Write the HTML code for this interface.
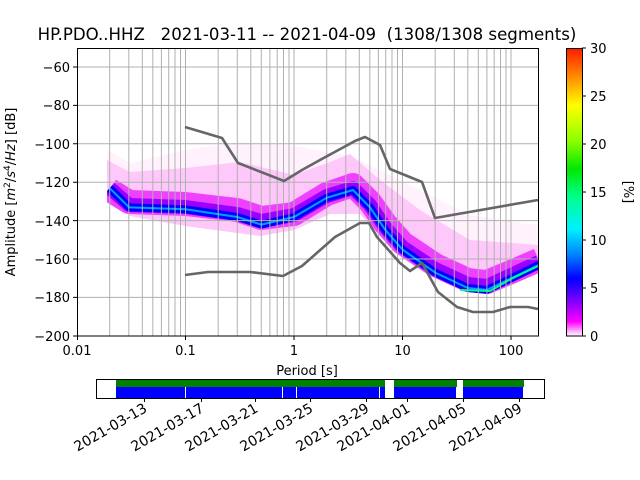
<!DOCTYPE html>
<html><head><meta charset="utf-8"><style>body{margin:0;background:#fff}svg{display:block}text{font-family:"DejaVu Sans","Liberation Sans",sans-serif;fill:#000}</style></head><body>
<svg width="640" height="480" viewBox="0 0 640 480" xmlns="http://www.w3.org/2000/svg">
<defs>
<linearGradient id="cb" x1="0" y1="0" x2="0" y2="1">
<stop offset="0" stop-color="#ff1a00"/><stop offset="0.1" stop-color="#ff8c00"/><stop offset="0.2" stop-color="#ffff00"/><stop offset="0.32" stop-color="#90ff00"/><stop offset="0.42" stop-color="#00e800"/><stop offset="0.52" stop-color="#00ff90"/><stop offset="0.63" stop-color="#00f0ff"/><stop offset="0.72" stop-color="#0080ff"/><stop offset="0.8" stop-color="#0000ff"/><stop offset="0.88" stop-color="#8000ff"/><stop offset="0.95" stop-color="#ff00ff"/><stop offset="1" stop-color="#ffffff"/>
</linearGradient>
<clipPath id="ax"><rect x="107" y="48" width="431" height="288"/></clipPath>
</defs>
<g clip-path="url(#ax)">
<polygon fill="#fff2fd" points="107,150 130,163 185,150 240,142 294,146 350,156 380,170 420,190 470,215 538,225 538,258 500,286 470,282 435,271 402,253 380,233 360,212 330,208 294,226 260,232 185,222 130,213 107,184"/>
<polygon fill="#ffc8fa" points="107,160 130,172 185,168 240,162 294,175 330,162 350,154 380,180 420,210 470,240 538,245 538,262 500,290 470,291 435,278 402,258 380,236 360,214 330,214 294,230 260,236 185,226 130,216 107,190"/>
<polyline fill="none" stroke="#f040ff" stroke-width="24" stroke-linejoin="round" points="109.7,190 129.2,202 185.5,204 237.3,210 261.3,218 294,214 326.7,194 353,185 370,202 385.7,224 402.5,243 435.2,265 467.8,280 486.9,282 511,272 538.7,260"/>
<polyline fill="none" stroke="#9a00ff" stroke-width="14" stroke-linejoin="round" points="109.7,188 129.2,205 185.5,207 237.3,214 261.3,221 294,215 326.7,196 353,188 370,205 385.7,228 402.5,247 435.2,269 467.8,284 486.9,286 511,275 538.7,262"/>
<polyline fill="none" stroke="#0000ff" stroke-width="8" stroke-linejoin="round" points="109.7,188.2 129.2,207.4 185.5,209.3 237.3,217 261.3,224.6 294,217 326.7,197.8 353,190 370,207.4 385.7,230.4 402.5,249.6 435.2,272.6 467.8,288 486.9,289.9 511,278.4 538.7,265"/>
<polyline fill="none" stroke="#00a0ff" stroke-width="2" stroke-linejoin="round" points="109.7,188.2 129.2,207.4 185.5,209.3 237.3,217 261.3,224.6 294,217 326.7,197.8 353,190 370,207.4 385.7,230.4 402.5,249.6 435.2,272.6 467.8,288 486.9,289.9 511,278.4 538.7,265"/>
<polyline fill="none" stroke="#00ff80" stroke-width="2" points="460,290 490,291 511,279 538,266"/>
</g>
<g stroke="#b0b0b0" stroke-width="1">
<path d="M77,67H538M77,105.4H538M77,143.8H538M77,182.2H538M77,220.6H538M77,259H538M77,297.4H538"/>
<path d="M109.7,48V336M128.8,48V336M142.3,48V336M152.8,48V336M161.4,48V336M168.7,48V336M175,48V336M180.5,48V336M185.5,48V336M218.2,48V336M237.3,48V336M250.8,48V336M261.3,48V336M269.9,48V336M277.2,48V336M283.5,48V336M289,48V336M294,48V336M326.7,48V336M345.8,48V336M359.3,48V336M369.8,48V336M378.4,48V336M385.7,48V336M392,48V336M397.5,48V336M402.5,48V336M435.2,48V336M454.3,48V336M467.8,48V336M478.3,48V336M486.9,48V336M494.2,48V336M500.5,48V336M506,48V336M511,48V336"/>
</g>
<g fill="none" stroke="#666" stroke-width="2.6" stroke-linejoin="round">
<polyline points="185,127 222,138 238,163 284,181 302,170 320,160 355,141 365,137 380,145 390,169 422,182 435,218 538,200"/>
<polyline points="185,275 208,272 250,272 283,276 302,266 335,237 360,223 369,223 377,237 400,263 410,271 422,263 438,292 457,307 473,312 493,312 510,307 528,307 538,309"/>
</g>
<rect x="77.5" y="48.5" width="461" height="287.5" fill="none" stroke="#000" stroke-width="1"/>
<g stroke="#000"><path d="M77,67h-4M77,105.4h-4M77,143.8h-4M77,182.2h-4M77,220.6h-4M77,259h-4M77,297.4h-4M77,336h-4M77.5,336v4M185.5,336v4M294,336v4M402.5,336v4M511,336v4"/></g>
<g font-size="13" text-anchor="end">
<text x="70" y="72">−60</text><text x="70" y="110">−80</text><text x="70" y="149">−100</text><text x="70" y="187">−120</text><text x="70" y="226">−140</text><text x="70" y="264">−160</text><text x="70" y="302">−180</text><text x="70" y="341">−200</text>
</g>
<g font-size="13" text-anchor="middle">
<text x="77" y="355">0.01</text><text x="185.5" y="355">0.1</text><text x="294" y="355">1</text><text x="402.5" y="355">10</text><text x="511" y="355">100</text>
<text x="307" y="375">Period [s]</text>
</g>
<text font-size="13" text-anchor="middle" transform="translate(15,192) rotate(-90)">Amplitude [<tspan font-style="italic">m</tspan><tspan font-size="9" dy="-5">2</tspan><tspan dy="5">/</tspan><tspan font-style="italic">s</tspan><tspan font-size="9" dy="-5">4</tspan><tspan dy="5">/</tspan><tspan font-style="italic">Hz</tspan>] [dB]</text>
<text x="307" y="40" font-size="16.6" text-anchor="middle" xml:space="preserve">HP.PDO..HHZ   2021-03-11 -- 2021-04-09  (1308/1308 segments)</text>
<rect x="566" y="48" width="16" height="288" fill="url(#cb)"/>
<rect x="566.5" y="48.5" width="16" height="287.5" fill="none" stroke="#000"/>
<g stroke="#000"><path d="M582,48h4M582,96h4M582,144h4M582,192h4M582,240h4M582,288h4M582,336h4"/></g>
<g font-size="13"><text x="590" y="53">30</text><text x="590" y="101">25</text><text x="590" y="149">20</text><text x="590" y="197">15</text><text x="590" y="245">10</text><text x="590" y="293">5</text><text x="590" y="341">0</text></g>
<text font-size="13" text-anchor="middle" transform="translate(624,192) rotate(90)">[%]</text>
<rect x="116" y="380" width="269" height="7" fill="#008000"/><rect x="394" y="380" width="63" height="7" fill="#008000"/><rect x="463" y="380" width="61" height="7" fill="#008000"/>
<rect x="116" y="387" width="269" height="11" fill="#0000ff"/><rect x="394" y="387" width="62" height="11" fill="#0000ff"/><rect x="463" y="387" width="60" height="11" fill="#0000ff"/>
<g stroke="#fff" stroke-width="1"><path d="M185.5,387v11M282.5,387v11M296.5,387v11M379.5,387v11"/></g>
<rect x="96.5" y="379.5" width="448" height="19" fill="none" stroke="#000"/>
<g stroke="#000"><path d="M144.5,398v4M201.5,398v4M255.5,398v4M310.5,398v4M366.5,398v4M407.5,398v4M463.5,398v4M519.5,398v4"/></g>
<g font-size="14" text-anchor="end">
<text transform="translate(148,411) rotate(-30)">2021-03-13</text>
<text transform="translate(205,411) rotate(-30)">2021-03-17</text>
<text transform="translate(259,411) rotate(-30)">2021-03-21</text>
<text transform="translate(314,411) rotate(-30)">2021-03-25</text>
<text transform="translate(370,411) rotate(-30)">2021-03-29</text>
<text transform="translate(411,411) rotate(-30)">2021-04-01</text>
<text transform="translate(467,411) rotate(-30)">2021-04-05</text>
<text transform="translate(523,411) rotate(-30)">2021-04-09</text>
</g>
</svg>
</body></html>
